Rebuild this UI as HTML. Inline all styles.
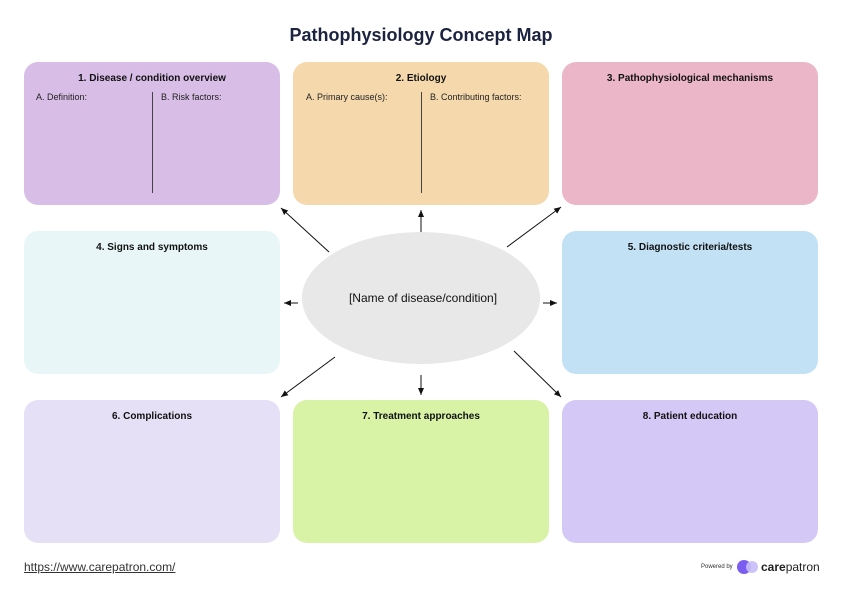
<!DOCTYPE html>
<html><head><style>
body{margin:0;width:842px;height:595px;background:#fff;position:relative;font-family:"Liberation Sans",Arial,sans-serif;overflow:hidden}
.b{position:absolute;width:256px;height:143px;border-radius:14px}
.t{position:absolute;top:11px;left:0;right:0;text-align:center;font-weight:bold;font-size:10px;color:#111}
.s{position:absolute;top:30px;font-size:9px;color:#222}
.v{position:absolute;left:128px;top:30px;width:1px;height:101px;background:#444}
h1{position:absolute;top:25px;left:0;width:842px;text-align:center;margin:0;font-size:18px;color:#1c2340}
</style></head><body>
<h1>Pathophysiology Concept Map</h1>
<div class="b" style="left:24px;top:62px;background:#d8bde6"><div class="t">1. Disease / condition overview</div><div class="s" style="left:12px">A. Definition:</div><div class="v"></div><div class="s" style="left:137px">B. Risk factors:</div></div>
<div class="b" style="left:293px;top:62px;background:#f5d9ac"><div class="t">2. Etiology</div><div class="s" style="left:13px">A. Primary cause(s):</div><div class="v"></div><div class="s" style="left:137px">B. Contributing factors:</div></div>
<div class="b" style="left:562px;top:62px;background:#eab6c8"><div class="t">3. Pathophysiological mechanisms</div></div>
<div class="b" style="left:24px;top:231px;background:#e9f6f7"><div class="t">4. Signs and symptoms</div></div>
<div class="b" style="left:562px;top:231px;background:#c2e1f5"><div class="t">5. Diagnostic criteria/tests</div></div>
<div class="b" style="left:24px;top:400px;background:#e6e0f7"><div class="t">6. Complications</div></div>
<div class="b" style="left:293px;top:400px;background:#d8f2a6"><div class="t">7. Treatment approaches</div></div>
<div class="b" style="left:562px;top:400px;background:#d4c8f7"><div class="t">8. Patient education</div></div>
<svg width="842" height="595" style="position:absolute;left:0;top:0">
<defs><marker id="a" markerWidth="8" markerHeight="8" refX="7" refY="4" orient="auto" markerUnits="userSpaceOnUse"><path d="M0,1 L7,4 L0,7z" fill="#111"/></marker></defs>
<ellipse cx="421" cy="298" rx="119" ry="66" fill="#e8e8e8"/>
<text x="423" y="302" text-anchor="middle" font-size="12" fill="#111" font-family="Liberation Sans,Arial,sans-serif">[Name of disease/condition]</text>
<g stroke="#111" stroke-width="1" marker-end="url(#a)">
<line x1="329" y1="252" x2="281" y2="208"/>
<line x1="421" y1="232" x2="421" y2="210"/>
<line x1="507" y1="247" x2="561" y2="207"/>
<line x1="298" y1="303" x2="284" y2="303"/>
<line x1="543" y1="303" x2="557" y2="303"/>
<line x1="335" y1="357" x2="281" y2="397"/>
<line x1="421" y1="375" x2="421" y2="395"/>
<line x1="514" y1="351" x2="561" y2="397"/>
</g>
<circle cx="744" cy="567" r="7" fill="#7b5cf0"/><circle cx="752" cy="567" r="6" fill="#c9bdf7" opacity="0.9"/>
</svg>
<div style="position:absolute;left:24px;top:560px;font-size:12px;color:#333;text-decoration:underline">https://www.carepatron.com/</div>
<div style="position:absolute;left:701px;top:564px;font-size:6px;color:#333">Powered by</div>
<div style="position:absolute;left:761px;top:560px;font-size:12px;color:#222"><b>care</b>patron</div>
</body></html>
